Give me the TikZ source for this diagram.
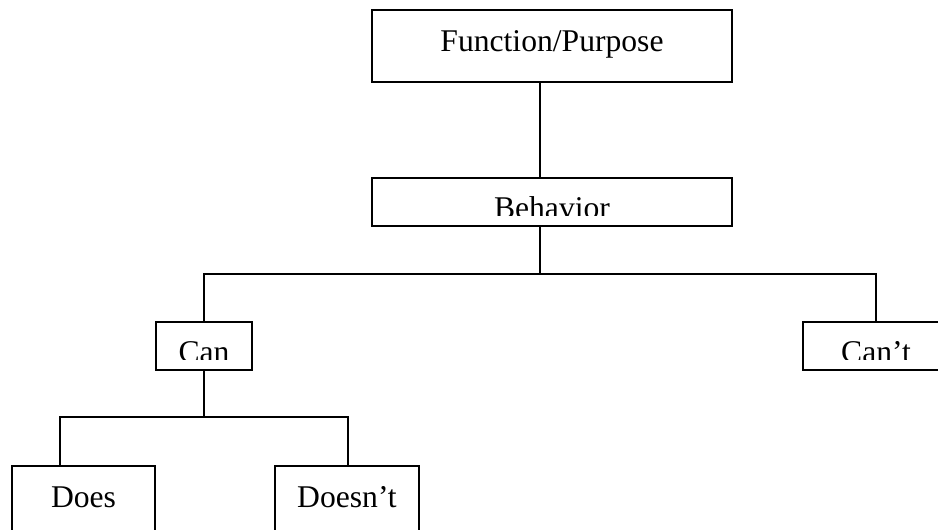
\documentclass[tikz,border=0pt]{standalone}
\usepackage{fontspec}
\setmainfont{Liberation Serif}

\begin{document}
\begin{tikzpicture}[%
    x=0.02cm, y=-0.02cm,   % one unit per pixel, y going down
    line width=1.1pt
    ]
% -------------------------------------------------
% Box styles
\tikzset{
  box/.style={draw, inner sep=0pt, font=\fontsize{18}{21}\selectfont},
  tall/.style={box, text height=0.83cm, text depth=0.61cm},
  flat/.style={box, minimum height=0.96cm},
  cut/.style={anchor=base, inner sep=0pt, font=\fontsize{18}{21}\selectfont}
}
\useasboundingbox (0,0) rectangle (938,529);
% -------------------------------------------------
% The boxes
\node [tall, minimum width=7.2cm]  (fp)     at (552,46)  {Function/Purpose};
\node [flat, minimum width=7.2cm]  (beh)    at (552,202) {};
\node [flat, minimum width=1.92cm] (can)    at (204,346) {};
\node [flat, minimum width=2.92cm] (cant)   at (876,346) {};
\node [tall, minimum width=2.86cm] (does)   at (83.5,502) {Does};
\node [tall, minimum width=2.88cm] (doesnt) at (347,502) {Doesn’t};

% the short boxes have their text cut off at the bottom
\foreach \b/\t in {beh/Behavior, can/Can, cant/Can’t} {
  \begin{scope}
    \clip (\b.north west) rectangle ([yshift=0.22cm]\b.south east);
    \node [cut] (\b-text) at ([yshift=-0.82cm]\b.north) {\t};
  \end{scope}
}

% -------------------------------------------------
% Connectors
\coordinate (fork1) at (540,274);
\coordinate (leg1)  at (60,417);
\coordinate (leg2)  at (348,417);

\draw (fp.south -| fork1) -- (beh.north -| fork1);
\draw (beh.south -| fork1) -- (fork1);
\draw (can.north) |- (fork1) -| (cant.north);

\draw (can.south) -- (can.south |- leg1);
\draw (does.north -| leg1) |- (leg2) -- (doesnt.north -| leg2);
% -------------------------------------------------
\end{tikzpicture}
\end{document}
